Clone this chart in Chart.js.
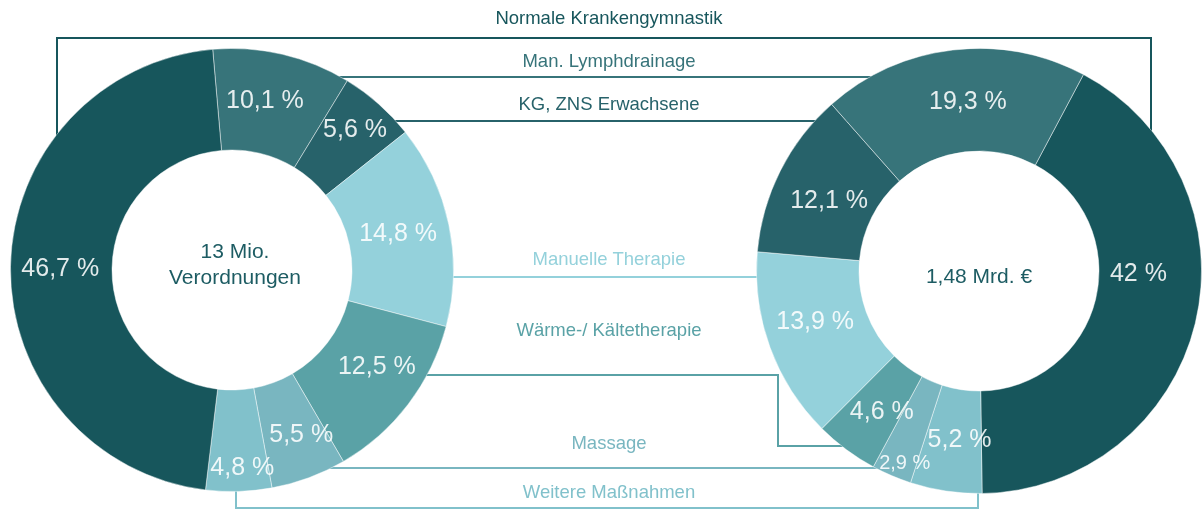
<!DOCTYPE html>
<html>
<head>
<meta charset="utf-8">
<script src="https://cdn.jsdelivr.net/npm/chart.js@4/dist/chart.umd.min.js"></script>
<style>
  body { margin: 0; background: #fff; font-family: "Liberation Sans", Arial, sans-serif; }
  #wrap { position: relative; width: 1203px; height: 513px; overflow: hidden; }
  canvas { position: absolute; }
  #links { left: 0; top: 0; z-index: 0; }
  #leftChart { left: 10px; top: 48px; z-index: 1; }
  #rightChart { left: 756px; top: 48px; z-index: 1; }
  .lbl { position: absolute; z-index: 2; white-space: nowrap; transform: translate(-50%, -50%); font-size: 18.5px; }
  .mid { position: absolute; z-index: 2; text-align: center; transform: translate(-50%, -50%); font-size: 21px; color: #1d5c63; line-height: 26px; }
</style>
</head>
<body>
<div id="wrap">
  <canvas id="links" width="1203" height="513"></canvas>
  <canvas id="leftChart" width="444" height="444"></canvas>
  <canvas id="rightChart" width="446" height="446"></canvas>
  <div class="mid" style="left:235px; top:264px;">13 Mio.<br>Verordnungen</div>
  <div class="mid" style="left:979px; top:276px;">1,48 Mrd. €</div>
</div>
<script>
// categories and shares (%)
var categories = ['Normale Krankengymnastik', 'Man. Lymphdrainage', 'KG, ZNS Erwachsene',
                  'Manuelle Therapie', 'Wärme-/ Kältetherapie', 'Massage', 'Weitere Maßnahmen'];
var verordnungen = [46.7, 10.1, 5.6, 14.8, 12.5, 5.5, 4.8];   // 13 Mio. Verordnungen
var ausgaben = [42, 19.3, 12.1, 13.9, 4.6, 2.9, 5.2];          // 1,48 Mrd. €

var colors = ['#17565c', '#37747a', '#27626a', '#94d1db', '#5aa2a6', '#79b6c0', '#81c1cb'];

// label nudges per category (px), left and right chart
var nudgeLeft = [[-1, 2], [-6, -3], [10, -12], [-1, -1], [9, -6], [10, 5], [5, 27]];
var nudgeRight = [[-7, -37], [9, 1], [3, 7], [-3, -8], [5, 4], [-7, 35], [6, 0]];
var smallLabel = { right: [5] };  // Massage on the right is set smaller

// connector routes (page px) and label rows
var linkY = [18, 61, 104, 259, 330, 443, 492];
var routes = [
  [[57, 200], [57, 38], [1151, 38], [1151, 200]],
  [[300, 77], [920, 77]],
  [[380, 121], [860, 121]],
  [[420, 277], [800, 277]],
  [[400, 375], [778, 375], [778, 446], [860, 446]],
  [[300, 468], [900, 468]],
  [[236, 450], [236, 508], [978, 508], [978, 450]]
];

function fmt(v) {
  return String(v).replace('.', ',') + ' %';
}

// right chart runs the other way round
var order = [0, 6, 5, 4, 3, 2, 1];

// connectors behind the doughnuts
var lc = document.getElementById('links').getContext('2d');
lc.lineWidth = 2;
routes.forEach(function (r, i) {
  lc.strokeStyle = colors[i];
  lc.beginPath();
  lc.moveTo(r[0][0], r[0][1]);
  for (var k = 1; k < r.length; k++) lc.lineTo(r[k][0], r[k][1]);
  lc.stroke();
});

var wrap = document.getElementById('wrap');
categories.forEach(function (c, i) {
  var d = document.createElement('div');
  d.className = 'lbl';
  d.style.left = '609px';
  d.style.top = linkY[i] + 'px';
  d.style.color = colors[i];
  d.textContent = c;
  wrap.appendChild(d);
});

var pctLabels = {
  id: 'pctLabels',
  afterDatasetsDraw: function (chart, args, opts) {
    var ctx = chart.ctx;
    var meta = chart.getDatasetMeta(0);
    ctx.save();
    ctx.textAlign = 'center';
    ctx.textBaseline = 'middle';
    ctx.fillStyle = 'rgba(255,255,255,0.88)';
    meta.data.forEach(function (arc, j) {
      var cat = opts.idx[j];
      var p = arc.tooltipPosition();
      var n = opts.nudge[cat];
      var size = opts.small.indexOf(cat) >= 0 ? 20 : 25;
      ctx.font = size + 'px "Liberation Sans", Arial, sans-serif';
      ctx.fillText(fmt(chart.data.datasets[0].data[j]), p.x + n[0], p.y + n[1]);
    });
    ctx.restore();
  }
};

function makeChart(id, values, idx, rotation, nudge, small) {
  var ctx = document.getElementById(id).getContext('2d');
  return new Chart(ctx, {
    type: 'doughnut',
    data: {
      labels: idx.map(function (k) { return categories[k]; }),
      datasets: [{
        data: idx.map(function (k) { return values[k]; }),
        backgroundColor: idx.map(function (k) { return colors[k]; }),
        borderColor: 'rgba(255,255,255,0.45)',
        borderWidth: 1
      }]
    },
    options: {
      responsive: false,
      animation: false,
      events: [],
      cutout: 120,
      rotation: rotation,
      layout: { padding: 0 },
      plugins: {
        legend: { display: false },
        tooltip: { enabled: false },
        pctLabels: { idx: idx, nudge: nudge, small: small }
      }
    },
    plugins: [pctLabels]
  });
}

makeChart('leftChart', verordnungen, [1, 2, 3, 4, 5, 6, 0], -5, nudgeLeft, []);
makeChart('rightChart', ausgaben, order, 28, nudgeRight, smallLabel.right);
</script>
</body>
</html>
